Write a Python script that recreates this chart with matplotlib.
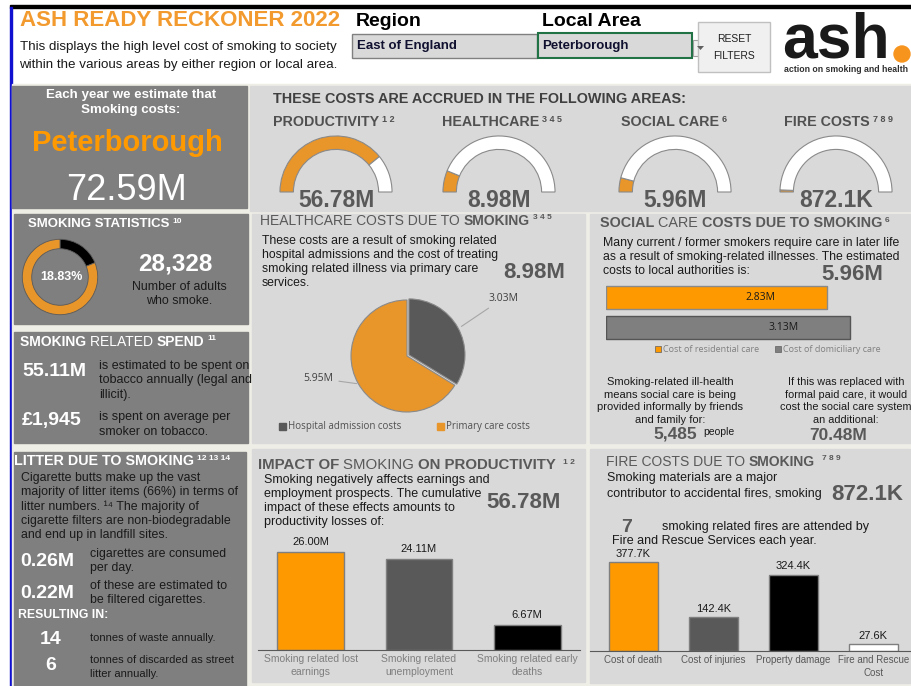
import matplotlib
matplotlib.use("Agg")
import matplotlib.pyplot as plt
from matplotlib.patches import Rectangle, Ellipse, Polygon

plt.rcParams['font.family'] = ['Liberation Sans', 'DejaVu Sans']

# data
region = "East of England"
local_area = "Peterborough"
total_cost = 72.59  # M per year

area_names = ['PRODUCTIVITY', 'HEALTHCARE', 'SOCIAL CARE', 'FIRE COSTS']
area_refs = ['1 2', '3 4 5', '6', '7 8 9']
area_costs = [56.78, 8.98, 5.96, 0.8721]  # M

smoking_prevalence = 18.83  # %
adult_smokers = 28328
tobacco_spend = 55.11  # M
spend_per_smoker = 1945

health_labels = ['Hospital admission costs', 'Primary care costs']
health_costs = [3.03, 5.95]

social_labels = ['Cost of residential care', 'Cost of domiciliary care']
social_costs = [2.83, 3.13]
informal_carers = 5485
informal_care_cost = 70.48

prod_labels = ['Smoking related lost\nearnings', 'Smoking related\nunemployment',
               'Smoking related early\ndeaths']
prod_costs = [26.00, 24.11, 6.67]

fire_labels = ['Cost of death', 'Cost of injuries', 'Property damage', 'Fire and Rescue\nCost']
fire_costs = [377.7, 142.4, 324.4, 27.6]  # K
fires_per_year = 7

cigs_per_day = 0.26  # M
filtered_per_day = 0.22  # M
waste_tonnes = 14
litter_tonnes = 6

ORANGE = '#ff9900'
GAUGE = '#e8952a'
DARK = '#7f7f7f'
LIGHT = '#d9d9d9'
GREYTXT = '#595959'

W, H = 912, 686
fig = plt.figure(figsize=(W / 100, H / 100), dpi=100, facecolor='white')
rend = fig.canvas.get_renderer()


def box(x, y, w, h):
    return [x / W, 1 - (y + h) / H, w / W, h / H]


def rect(x, y, w, h, **kw):
    kw.setdefault('zorder', -1)
    fig.add_artist(Rectangle((x / W, 1 - (y + h) / H), w / W, h / H,
                             transform=fig.transFigure, **kw))


def txt(x, y, s, **kw):
    kw.setdefault('va', 'center')
    return fig.text(x / W, 1 - y / H, s, **kw)


def sup(t, s, size=6, color='white', dx=3, dy=-4):
    bb = t.get_window_extent(rend)
    return fig.text((bb.x1 + dx) / W, (bb.y1 + dy) / H, s, size=size, color=color,
                    weight='bold', va='center', ha='left')


def heading(x, y, pieces, ref, size=10, color='white', dx=3):
    # title made of bold / normal pieces, then the reference numbers
    cur = x
    for s, w in pieces:
        t = txt(cur, y, s, size=size, weight=w, color=color)
        cur = t.get_window_extent(rend).x1
    sup(t, ref, color=color, dx=dx)


def money(v):
    return f"{v:.2f}M" if v >= 1 else f"{v * 1000:.1f}K"


# page frame
rect(10, 5, 902, 2.5, color='black')
rect(10, 7, 2.5, 679, color='#1010d0')
rect(12.5, 84, 900, 602, color='#efeee6')

# header
txt(20, 20, "ASH READY RECKONER 2022", size=16, weight='bold', color='#f29a2e')
txt(178, 47, "This displays the high level cost of smoking to society", size=9.6,
    ha='center', color='#1a1a1a')
txt(178, 65, "within the various areas by either region or local area.", size=9.6,
    ha='center', color='#1a1a1a')
txt(356, 21, "Region", size=14, weight='bold')
txt(542, 21, "Local Area", size=14, weight='bold')
rect(352, 34, 185, 24, facecolor='#d9d9d9', edgecolor='#808080', lw=1)
txt(357, 46.5, region, size=9.5, weight='bold', color='#101030')
rect(538, 33, 154, 25, facecolor='#d9d9d9', edgecolor='#217346', lw=1.5)
txt(542, 46.5, local_area, size=9.5, weight='bold', color='#101030')
rect(693, 40, 15, 16, facecolor='#f0f0f0', edgecolor='#a0a0a0', lw=0.8)
fig.add_artist(Polygon([(697 / W, 1 - 46 / H), (704 / W, 1 - 46 / H), (700.5 / W, 1 - 50 / H)],
                       closed=True, color='#606060', lw=0, transform=fig.transFigure))
rect(698, 22, 72, 50, facecolor='#f0f0f0', edgecolor='#c0c0c0', lw=1)
txt(734, 39, "RESET", size=7.5, ha='center', color='#202020')
txt(734, 56, "FILTERS", size=7.5, ha='center', color='#202020')
txt(836, 57, "ash", size=45, weight='bold', ha='center', va='baseline', color='#1a1a1a')
fig.add_artist(Ellipse((902 / W, 1 - 54 / H), 16 / W, 16 / H, color='#f7941d',
                       transform=fig.transFigure))
txt(846, 69, "action on smoking and health", size=6.3, weight='bold', ha='center',
    color='#303030')

# panels
rect(12.5, 86, 235, 122, color=DARK)
rect(250, 86, 662, 125, color=LIGHT)
rect(14, 214, 234, 110, color=DARK)
rect(14, 332, 234, 111, color=DARK)
rect(14, 452, 232, 234, color=DARK)
rect(252, 214, 333, 229, color=LIGHT)
rect(590, 214, 322, 229, color=LIGHT)
rect(252, 449, 333, 233, color=LIGHT)
rect(590, 449, 320, 234, color=LIGHT)

# headline cost
txt(131, 95, "Each year we estimate that", size=9.6, weight='bold', color='white', ha='center')
txt(131, 110, "Smoking costs:", size=9.6, weight='bold', color='white', ha='center')
txt(127, 143, local_area, size=21, weight='bold', color=ORANGE, ha='center')
txt(127, 190, money(total_cost), size=26, color='white', ha='center')

# gauges: share of the total cost
txt(273, 99, "THESE COSTS ARE ACCRUED IN THE FOLLOWING AREAS:", size=10.4, weight='bold',
    color='#404040')
gauge_x = [336, 499, 675, 836]
title_x = [273, 442, 621, 784]
for cx, tx, name, ref, cost in zip(gauge_x, title_x, area_names, area_refs, area_costs):
    t = txt(tx, 122, name, size=10.3, weight='bold', color='#505050')
    sup(t, ref, size=6.5, color='#505050')
    ax = fig.add_axes(box(cx - 65, 192 - 65, 130, 130))
    wedges, _ = ax.pie([cost, total_cost - cost, total_cost], startangle=180,
                       counterclock=False, colors=[GAUGE, 'white', 'none'],
                       wedgeprops=dict(width=0.24, edgecolor='#8a8a8a', linewidth=0.8))
    wedges[2].set_visible(False)
    ax.set_xlim(-1.16, 1.16)
    ax.set_ylim(-1.16, 1.16)
    ax.set_axis_off()
    txt(cx, 200, money(cost), size=16.5, weight='bold', color=GREYTXT, ha='center')

# smoking statistics
heading(28, 224, [("SMOKING STATISTICS", 'bold')], "10", size=9.5)
ax = fig.add_axes(box(60 - 46, 277 - 46, 92, 92))
ax.pie([smoking_prevalence, 100 - smoking_prevalence], startangle=90, counterclock=False,
       colors=['black', GAUGE], wedgeprops=dict(width=0.25, edgecolor='#5a5a5a', linewidth=0.6))
ax.set_xlim(-1.22, 1.22)
ax.set_ylim(-1.22, 1.22)
ax.set_axis_off()
txt(61, 277, f"{smoking_prevalence:.2f}%", size=9, weight='bold', color='white', ha='center')
txt(175, 264, f"{adult_smokers:,}", size=17.5, weight='bold', color='white', ha='center')
txt(179, 287, "Number of adults", size=8.9, color='#1a1a1a', ha='center')
txt(179, 301, "who smoke.", size=8.9, color='#1a1a1a', ha='center')

# smoking related spend
heading(20, 342, [("SMOKING ", 'bold'), ("RELATED ", 'normal'), ("SPEND", 'bold')], "11",
        size=10)
txt(22, 372, money(tobacco_spend), size=14, weight='bold', color='white')
txt(99, 366, "is estimated to be spent on", size=9, color='#1a1a1a')
txt(99, 380, "tobacco annually (legal and", size=9, color='#1a1a1a')
txt(99, 395, "illicit).", size=9, color='#1a1a1a')
txt(22, 421, f"£{spend_per_smoker:,}", size=14, weight='bold', color='white')
txt(99, 417, "is spent on average per", size=9, color='#1a1a1a')
txt(99, 432, "smoker on tobacco.", size=9, color='#1a1a1a')

# litter
heading(14, 461, [("LITTER DUE TO SMOKING", 'bold')], "12 13 14", size=10.3)
litter_lines = ["Cigarette butts make up the vast",
                "majority of litter items (66%) in terms of",
                "litter numbers. \u00b9\u2074 The majority of",
                "cigarette filters are non-biodegradable",
                "and end up in landfill sites."]
for i, line in enumerate(litter_lines):
    txt(21, 478 + 14.2 * i, line, size=8.9, color='#1a1a1a')
txt(20, 561, f"{cigs_per_day:.2f}M", size=14, weight='bold', color='white')
txt(90, 554, "cigarettes are consumed", size=8.9, color='#1a1a1a')
txt(90, 568, "per day.", size=8.9, color='#1a1a1a')
txt(20, 593, f"{filtered_per_day:.2f}M", size=14, weight='bold', color='white')
txt(90, 586, "of these are estimated to", size=8.9, color='#1a1a1a')
txt(90, 600, "be filtered cigarettes.", size=8.9, color='#1a1a1a')
txt(18, 615, "RESULTING IN:", size=8.8, weight='bold', color='white')
txt(51, 639, f"{waste_tonnes}", size=14, weight='bold', color='white', ha='center')
txt(90, 638, "tonnes of waste annually.", size=8, color='#1a1a1a')
txt(51, 665, f"{litter_tonnes}", size=14, weight='bold', color='white', ha='center')
txt(90, 660, "tonnes of discarded as street", size=8, color='#1a1a1a')
txt(90, 674, "litter annually.", size=8, color='#1a1a1a')

# healthcare pie
heading(260, 221, [("HEALTHCARE COSTS DUE TO ", 'normal'), ("SMOKING", 'bold')], "3 4 5",
        size=10.0, color=GREYTXT)
for i, line in enumerate(["These costs are a result of smoking related",
                          "hospital admissions and the cost of treating",
                          "smoking related illness via primary care",
                          "services."]):
    txt(262, 241 + 14 * i, line, size=8.8, color='#1a1a1a')
txt(503, 273, money(sum(health_costs)), size=16, weight='bold', color=GREYTXT)
ax = fig.add_axes(box(407 - 70, 356 - 70, 140, 140))
wedges, _ = ax.pie(health_costs, startangle=90, counterclock=False, colors=['#595959', GAUGE],
                   explode=[0.04, 0], wedgeprops=dict(edgecolor='#8a8a8a', linewidth=0.8))
ax.set_xlim(-1.25, 1.25)
ax.set_ylim(-1.25, 1.25)
ax.set_axis_off()
ax.annotate(money(health_costs[0]), xy=(0.93, 0.5), xytext=(1.45, 1.03),
            fontsize=7.5, color='#404040', family='Open Sans', va='center',
            arrowprops=dict(arrowstyle='-', color='#a6a6a6', lw=0.8), annotation_clip=False)
ax.annotate(money(health_costs[1]), xy=(-0.85, -0.5), xytext=(-1.85, -0.4),
            fontsize=7.5, color='#404040', family='Open Sans', va='center',
            arrowprops=dict(arrowstyle='-', color='#a6a6a6', lw=0.8), annotation_clip=False)
for lx, lab, c in zip([279, 437], health_labels, ['#595959', GAUGE]):
    rect(lx, 423, 7, 7, color=c, zorder=1)
    txt(lx + 9, 427, lab, size=7, color='#505050', family='Open Sans')

# social care bars
heading(600, 223, [("SOCIAL ", 'bold'), ("CARE ", 'normal'), ("COSTS DUE TO SMOKING", 'bold')],
        "6", size=10.4, color=GREYTXT)
for i, line in enumerate(["Many current / former smokers require care in later life",
                          "as a result of smoking-related illnesses. The estimated",
                          "costs to local authorities is:"]):
    txt(603, 243 + 14 * i, line, size=8.8, color='#1a1a1a')
txt(852, 275, money(sum(social_costs)), size=16, weight='bold', color=GREYTXT, ha='center')
ax = fig.add_axes(box(606, 280, 290, 66))
ax.barh([1, 0], social_costs, height=0.76, color=[ORANGE, '#7f7f7f'],
        edgecolor=['#8a8a8a', '#555555'], linewidth=1)
for yv, v in zip([1, 0], social_costs):
    ax.text(v - 0.85, yv, money(v), ha='center', va='center', fontsize=7.5,
            color='#1a1a1a', family='Open Sans')
ax.set_xlim(0, 290 / 78)
ax.set_ylim(-0.6, 1.56)
ax.set_axis_off()
for lx, lab, c in zip([655, 775], social_labels, [ORANGE, '#7f7f7f']):
    rect(lx, 346, 6, 6, facecolor=c, edgecolor='#606060', lw=0.5, zorder=1)
    txt(lx + 8, 349, lab, size=6.5, color='#808080', family='Open Sans')
for i, line in enumerate(["Smoking-related ill-health", "means social care is being",
                          "provided informally by friends", "and family for:"]):
    txt(670, 382 + 12.7 * i, line, size=8, color='#1a1a1a', ha='center')
for i, line in enumerate(["If this was replaced with", "formal paid care, it would",
                          "cost the social care system", "an additional:"]):
    txt(846, 382 + 12.7 * i, line, size=7.8, color='#1a1a1a', ha='center')
txt(697, 434, f"{informal_carers:,}", size=12.5, weight='bold', color=GREYTXT, ha='right')
txt(703, 432, "people", size=7.5, color='#1a1a1a')
txt(838, 436, money(informal_care_cost), size=12.5, weight='bold', color=GREYTXT, ha='center')

# productivity bars
heading(258, 465, [("IMPACT OF ", 'bold'), ("SMOKING ", 'normal'), ("ON PRODUCTIVITY", 'bold')],
        "1 2", size=10.8, color=GREYTXT, dx=7)
for i, line in enumerate(["Smoking negatively affects earnings and",
                          "employment prospects. The cumulative",
                          "impact of these effects amounts to",
                          "productivity losses of:"]):
    txt(264, 480 + 14 * i, line, size=9, color='#1a1a1a')
txt(486, 502, money(sum(prod_costs)), size=16, weight='bold', color=GREYTXT)
ax = fig.add_axes(box(258, 520, 322, 130))
ax.set_facecolor('none')
ax.bar(range(len(prod_costs)), prod_costs, width=0.62,
       color=[ORANGE, '#595959', 'black'], edgecolor='#7f7f7f', linewidth=1)
for i, v in enumerate(prod_costs):
    ax.text(i, v + 1.3, money(v), ha='center', va='bottom', fontsize=8, color='#1a1a1a')
ax.set_xlim(-0.49, 2.49)
ax.set_ylim(0, 26.0 * 130 / 98)
ax.set_xticks(range(len(prod_costs)))
ax.set_xticklabels(prod_labels, fontsize=7.5, color='#7f7f7f', linespacing=1.3)
ax.tick_params(length=0, pad=3)
ax.set_yticks([])
for s in ['top', 'left', 'right']:
    ax.spines[s].set_visible(False)
ax.spines['bottom'].set_color('#595959')

# fire bars
heading(606, 462, [("FIRE COSTS DUE TO ", 'normal'), ("SMOKING", 'bold')], "7 8 9",
        size=10.0, color=GREYTXT, dx=7)
txt(607, 478, "Smoking materials are a major", size=9, color='#1a1a1a')
txt(607, 494, "contributor to accidental fires, smoking", size=9, color='#1a1a1a')
txt(831, 494, money(sum(fire_costs) / 1000), size=16, weight='bold', color=GREYTXT)
txt(621, 527, f"{fires_per_year}", size=14, weight='bold', color=GREYTXT)
txt(662, 527, "smoking related fires are attended by", size=9, color='#1a1a1a')
txt(612, 541, "Fire and Rescue Services each year.", size=9, color='#1a1a1a')
ax = fig.add_axes(box(590, 551, 320, 100))
ax.set_facecolor('none')
ax.bar(range(len(fire_costs)), fire_costs, width=0.61,
       color=[ORANGE, '#595959', 'black', 'white'], edgecolor='#7f7f7f', linewidth=1)
for i, v in enumerate(fire_costs):
    ax.text(i, v + 14, f"{v:.1f}K", ha='center', va='bottom', fontsize=8, color='#1a1a1a')
ax.set_xlim(-0.54, 3.46)
ax.set_ylim(0, 377.7 * 100 / 89)
ax.set_xticks(range(len(fire_costs)))
ax.set_xticklabels(fire_labels, fontsize=7, color='#595959', linespacing=1.3)
ax.tick_params(length=0, pad=3)
ax.set_yticks([])
for s in ['top', 'left', 'right']:
    ax.spines[s].set_visible(False)
ax.spines['bottom'].set_color('#595959')

fig.savefig('out.png', dpi=100, facecolor=fig.get_facecolor())
